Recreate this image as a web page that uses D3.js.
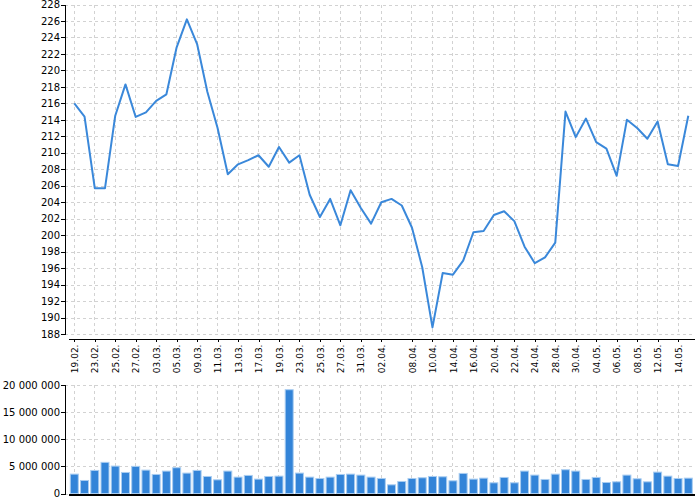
<!DOCTYPE html>
<html>
<head>
<meta charset="utf-8">
<script src="https://cdn.jsdelivr.net/npm/d3@7"></script>
<style>
  body { margin: 0; background: #fff; }
  svg { font-family: "DejaVu Sans", sans-serif; }
  .grid line { stroke: #d2d2d2; stroke-dasharray: 3,3; shape-rendering: crispEdges; }
  .axis path, .axis line { stroke: #000; shape-rendering: crispEdges; }
  .axis text { fill: #000; }
</style>
</head>
<body>
<div class="container"></div>
<script>
// trading days
const dates = ["19.02.","20.02.","23.02.","24.02.","25.02.","26.02.","27.02.",
  "02.03.","03.03.","04.03.","05.03.","06.03.","09.03.","10.03.","11.03.","12.03.","13.03.",
  "16.03.","17.03.","18.03.","19.03.","20.03.","23.03.","24.03.","25.03.","26.03.","27.03.",
  "30.03.","31.03.","01.04.","02.04.","06.04.","07.04.","08.04.","09.04.","10.04.",
  "13.04.","14.04.","15.04.","16.04.","17.04.","20.04.","21.04.","22.04.","23.04.","24.04.",
  "27.04.","28.04.","29.04.","30.04.","01.05.","04.05.","05.05.","06.05.","07.05.","08.05.",
  "11.05.","12.05.","13.05.","14.05.","15.05."];

const tickLabels = ["19.02.","23.02.","25.02.","27.02.","03.03.","05.03.","09.03.","11.03.",
  "13.03.","17.03.","19.03.","23.03.","25.03.","27.03.","31.03.","02.04.","08.04.","10.04.",
  "14.04.","16.04.","20.04.","22.04.","24.04.","28.04.","30.04.","04.05.","06.05.","08.05.",
  "12.05.","14.05."];

const prices = [216.0, 214.4, 205.7, 205.7, 214.5, 218.3, 214.35, 214.9, 216.3, 217.1,
  222.8, 226.2, 223.2, 217.4, 213.0, 207.4, 208.6, 209.1, 209.7, 208.3,
  210.7, 208.8, 209.7, 204.9, 202.2, 204.4, 201.2, 205.45, 203.3, 201.4,
  204.0, 204.4, 203.6, 200.9, 196.1, 188.8, 195.4, 195.2, 196.9, 200.35,
  200.5, 202.45, 202.9, 201.7, 198.6, 196.6, 197.3, 199.1, 215.0, 211.9,
  214.15, 211.3, 210.5, 207.2, 214.0, 213.0, 211.7, 213.8, 208.6, 208.4,
  214.5];

const volumes = [3570000, 2400000, 4250000, 5740000, 5050000, 3880000, 5000000, 4310000, 3510000, 4130000,
  4750000, 3760000, 4250000, 3140000, 2520000, 4130000, 3020000, 3330000, 2650000, 3140000,
  3200000, 19130000, 3760000, 3020000, 2770000, 3020000, 3510000, 3570000, 3390000, 3020000,
  2770000, 1600000, 2220000, 2770000, 2900000, 3140000, 3080000, 2340000, 3700000, 2650000,
  2830000, 1970000, 2960000, 1970000, 4130000, 3390000, 2590000, 3570000, 4380000, 4130000,
  2590000, 2960000, 2030000, 2150000, 3390000, 2710000, 2150000, 3940000, 3200000, 2770000,
  2830000];

const priceTicks = d3.range(188, 229, 2);
const volumeTicks = [0, 5000000, 10000000, 15000000, 20000000];

const width = 700, height = 500;
const left = 65, right = 695;

const svg = d3.select(".container")
              .append("svg")
              .attr("width", width)
              .attr("height", height);

const xScale = d3.scalePoint()
                 .domain(dates)
                 .range([68, 694.6])
                 .padding(0.616);

// price panel
const yScale = d3.scaleLinear()
                 .domain([188, 228])
                 .range([334, 4.5]);

// volume panel
const vScale = d3.scaleLinear()
                 .domain([0, 20000000])
                 .range([493.5, 385]);

const locale = d3.formatLocale({decimal: ".", thousands: " ", grouping: [3], currency: ["", ""]});
const fmtVol = locale.format(",");

function grid(g, scale, ticks, y0, y1) {
    g.attr("class", "grid");
    g.selectAll(".h").data(ticks).join("line")
     .attr("class", "h")
     .attr("x1", left).attr("x2", right)
     .attr("y1", d => scale(d) + 0.5).attr("y2", d => scale(d) + 0.5);
    g.selectAll(".v").data(tickLabels).join("line")
     .attr("class", "v")
     .attr("x1", d => xScale(d)).attr("x2", d => xScale(d))
     .attr("y1", y0).attr("y2", y1);
}

svg.append("g").call(grid, yScale, priceTicks, 4.5, 334);
svg.append("g").call(grid, vScale, volumeTicks, 385, 493.5);

// price line
const line = d3.line()
               .x((d, i) => xScale(dates[i]))
               .y(d => yScale(d));

svg.append("path")
   .datum(prices)
   .attr("fill", "none")
   .attr("stroke", "#3a88da")
   .attr("stroke-width", 2)
   .attr("stroke-linejoin", "round")
   .attr("d", line);

// volume bars
svg.append("g")
   .selectAll("rect")
   .data(volumes)
   .join("rect")
   .attr("x", (d, i) => xScale(dates[i]) - 4)
   .attr("y", d => vScale(d))
   .attr("width", 8)
   .attr("height", d => vScale(0) - vScale(d))
   .attr("fill", "#3384d8")
   .attr("stroke", "#a9cdf1")
   .attr("stroke-width", 1);

// axes
svg.append("g")
   .attr("class", "axis y-axis")
   .attr("transform", `translate(${left},0)`)
   .style("font-size", "10px")
   .call(d3.axisLeft(yScale).tickValues(priceTicks).tickSize(4).tickPadding(1))
   .call(g => g.selectAll("text").attr("font-family", "DejaVu Sans"));

svg.append("g")
   .attr("class", "axis x-axis")
   .attr("transform", "translate(0,338.5)")
   .style("font-size", "9px")
   .call(d3.axisBottom(xScale).tickValues(tickLabels).tickSize(3).tickSizeOuter(0))
   .call(g => g.selectAll("text")
               .attr("font-family", "DejaVu Sans")
               .attr("transform", "rotate(-90)")
               .attr("text-anchor", "end")
               .attr("x", -6)
               .attr("y", 0)
               .attr("dy", "0.35em"));

svg.append("g")
   .attr("class", "axis y-axis")
   .attr("transform", `translate(${left},0)`)
   .style("font-size", "10px")
   .call(d3.axisLeft(vScale).tickValues(volumeTicks).tickFormat(fmtVol).tickSize(4).tickPadding(1))
   .call(g => g.selectAll("text").attr("font-family", "DejaVu Sans"));

svg.append("g")
   .attr("class", "axis x-axis")
   .attr("transform", "translate(0,494.5)")
   .call(d3.axisBottom(xScale).tickValues([]).tickSize(0))
   .call(g => g.select(".domain").attr("stroke-width", 1.5));
</script>
</body>
</html>
